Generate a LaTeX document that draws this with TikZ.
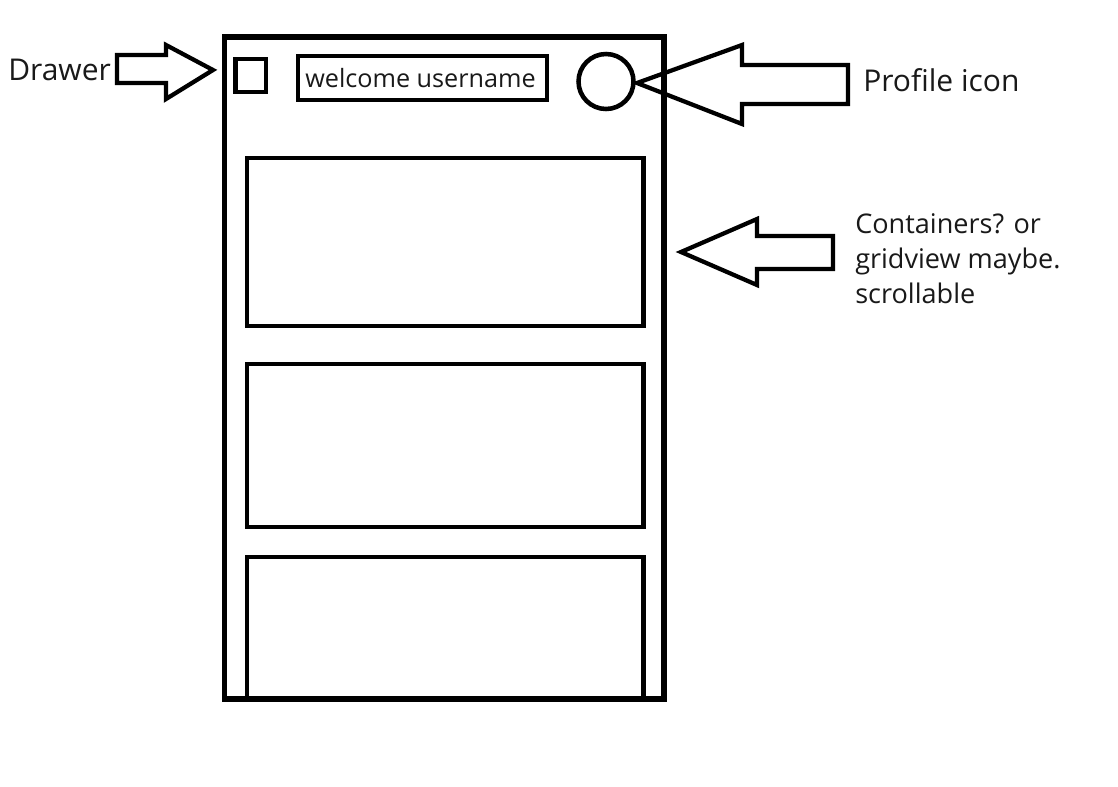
\documentclass[tikz,border=0pt]{standalone}
\usepackage{fontspec}
\setmainfont{Open Sans}
\begin{document}
\begin{tikzpicture}[x=0.75pt,y=-0.75pt,
  frame/.style={line width=3.8pt},
  box/.style={line width=3.4pt},
  blockarrow/.style={line width=3.2pt, line join=miter},
  lbl/.style={inner sep=0pt, text=black!90},
  biglbl/.style={lbl, font=\fontsize{22.5pt}{27pt}\selectfont},
  midlbl/.style={lbl, font=\fontsize{20.3pt}{26pt}\selectfont},
]
\useasboundingbox[fill=white] (0,0) rectangle (1118,786);
% phone frame
\draw[frame] (224.5,37) rectangle (664,699);
% drawer square
\draw[box] (235.5,59) rectangle (266,92);
% welcome box
\draw[box] (298,56) rectangle (547,100);
\node[lbl, font=\fontsize{18.9pt}{23pt}\selectfont, anchor=base west] (welcome) at (305,87) {welcome username};
% profile circle
\draw[box] (606,81.5) circle (27.5);
% containers
\draw[box] (247,158) rectangle (643.5,326);
\draw[box] (247,364) rectangle (643.5,527);
\draw[box] (247,697) -- (247,557) -- (643.5,557) -- (643.5,697);
% drawer arrow
\draw[blockarrow] (117,55) -- (166,55) -- (166,45) -- (213,70) -- (166,99) -- (166,83) -- (117,83) -- cycle;
\node[biglbl, anchor=base west] (drawer) at (8,80) {Drawer};
% profile arrow
\draw[blockarrow] (848,65) -- (742,65) -- (742,45) -- (637,83) -- (742,124) -- (742,104) -- (848,104) -- cycle;
\node[biglbl, anchor=base west] (proflbl) at (863,91) {Profile icon};
% containers arrow
\draw[blockarrow] (833,236) -- (757,236) -- (757,219) -- (681,252) -- (757,285) -- (757,269) -- (833,269) -- cycle;
\node[midlbl, anchor=base west, align=left] (contlbl) at (855,303) {Containers? or\\gridview maybe.\\scrollable};
\end{tikzpicture}
\end{document}
